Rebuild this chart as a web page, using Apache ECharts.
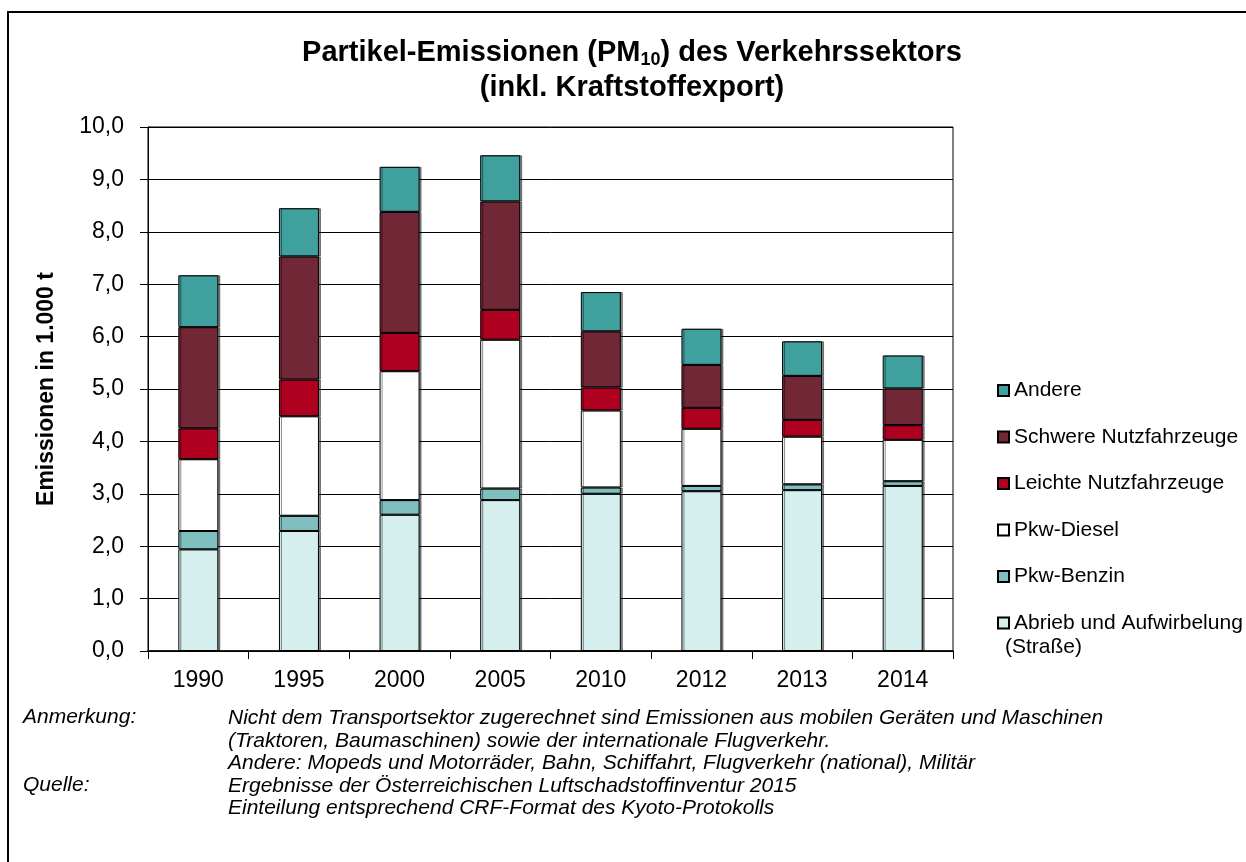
<!DOCTYPE html>
<html>
<head>
<meta charset="utf-8">
<script src="https://cdn.jsdelivr.net/npm/echarts@6/dist/echarts.min.js"></script>
<style>
html,body{margin:0;padding:0;background:#fff;}
#chart{width:1246px;height:862px;}
</style>
</head>
<body>
<div id="chart"></div>
<script>
var years = ['1990', '1995', '2000', '2005', '2010', '2012', '2013', '2014'];
var abrieb = [1.94, 2.29, 2.60, 2.88, 3.00, 3.05, 3.07, 3.15];
var benzin = [0.35, 0.29, 0.28, 0.22, 0.12, 0.10, 0.11, 0.09];
var diesel = [1.37, 1.90, 2.46, 2.84, 1.47, 1.09, 0.91, 0.79];
var leichte = [0.59, 0.70, 0.73, 0.57, 0.44, 0.40, 0.32, 0.28];
var schwere = [1.93, 2.35, 2.31, 2.07, 1.07, 0.82, 0.84, 0.70];
var andere = [0.99, 0.92, 0.86, 0.88, 0.75, 0.69, 0.66, 0.63];
var yTicks = [0, 1, 2, 3, 4, 5, 6, 7, 8, 9, 10];

var FONT = "'Liberation Sans', Arial, sans-serif";
var seriesDefs = [
  {name: 'Abrieb und Aufwirbelung (Straße)', data: abrieb, color: '#D5EFEF'},
  {name: 'Pkw-Benzin', data: benzin, color: '#80BFBF'},
  {name: 'Pkw-Diesel', data: diesel, color: '#FFFFFF'},
  {name: 'Leichte Nutzfahrzeuge', data: leichte, color: '#AF0020'},
  {name: 'Schwere Nutzfahrzeuge', data: schwere, color: '#722736'},
  {name: 'Andere', data: andere, color: '#40A09E'}
];

var chart = echarts.init(document.getElementById('chart'), null, {renderer: 'canvas'});

var option = {
  backgroundColor: '#fff',
  animation: false,
  textStyle: {fontFamily: FONT},
  title: {
    left: 632,
    top: 35,
    padding: 0,
    textAlign: 'center',
    text: '{t|Partikel-Emissionen (PM}{s|10}{t|) des Verkehrssektors}\n{t|(inkl. Kraftstoffexport)}',
    textStyle: {
      fontFamily: FONT,
      rich: {
        t: {fontSize: 29, fontWeight: 'bold', color: '#000', lineHeight: 35, fontFamily: FONT},
        s: {fontSize: 18, fontWeight: 'bold', color: '#000', padding: [16, 0, 0, 0], fontFamily: FONT}
      }
    }
  },
  legend: {
    orient: 'vertical',
    left: 992,
    top: 375,
    itemWidth: 11,
    itemHeight: 11,
    itemGap: 25.5,
    icon: 'rect',
    data: ['Andere', 'Schwere Nutzfahrzeuge', 'Leichte Nutzfahrzeuge', 'Pkw-Diesel', 'Pkw-Benzin', 'Abrieb und Aufwirbelung (Straße)'],
    formatter: function (n) { return n === 'Abrieb und Aufwirbelung (Straße)' ? 'Abrieb und Aufwirbelung' : n; },
    textStyle: {fontSize: 21, color: '#000', fontFamily: FONT, lineHeight: 21},
    selectedMode: false
  },
  grid: {
    left: 148, right: 293, top: 127, bottom: 211,
    show: true, borderColor: '#000', borderWidth: 1, backgroundColor: '#fff'
  },
  xAxis: {
    type: 'category',
    data: years,
    axisLine: {lineStyle: {color: '#000', width: 1.5}},
    axisTick: {show: true, length: 8, lineStyle: {color: '#000'}},
    axisLabel: {fontSize: 23, color: '#000', margin: 18, fontFamily: FONT}
  },
  yAxis: {
    type: 'value',
    min: 0, max: 10, interval: 1,
    name: 'Emissionen in 1.000 t',
    nameLocation: 'middle',
    nameRotate: 90,
    nameGap: 90,
    nameTextStyle: {fontSize: 23, fontWeight: 'bold', color: '#000', fontFamily: FONT},
    axisLine: {show: true, lineStyle: {color: '#000', width: 1}},
    axisTick: {show: true, length: 8, inside: false, lineStyle: {color: '#000'}},
    axisLabel: {
      fontSize: 23, color: '#000', margin: 24, fontFamily: FONT,
      formatter: function (v) { return yTicks.indexOf(v) >= 0 ? v.toFixed(1).replace('.', ',') : ''; }
    },
    splitLine: {show: true, lineStyle: {color: '#000', width: 1}}
  },
  series: seriesDefs.map(function (s) {
    return {
      name: s.name,
      type: 'bar',
      stack: 'total',
      barWidth: 40,
      data: s.data,
      itemStyle: {
        color: s.color,
        borderColor: '#000',
        borderWidth: 1,
        shadowColor: 'rgba(0,0,0,0.45)',
        shadowOffsetX: 2,
        shadowOffsetY: 0,
        shadowBlur: 0
      },
      emphasis: {disabled: true}
    };
  }),
  graphic: [
    {type: 'rect', silent: true, z: -10,
      shape: {x: 8, y: 12, width: 1300, height: 900},
      style: {fill: 'none', stroke: '#000', lineWidth: 2}},
    {type: 'text', left: 1005, top: 637,
      style: {text: '(Straße)', fontSize: 21, fill: '#000', fontFamily: FONT}},
    {type: 'text', left: 23, top: 707,
      style: {text: 'Anmerkung:', fontSize: 21, fontStyle: 'italic', fill: '#000', fontFamily: FONT}},
    {type: 'text', left: 23, top: 775,
      style: {text: 'Quelle:', fontSize: 21, fontStyle: 'italic', fill: '#000', fontFamily: FONT}},
    {type: 'text', left: 228, top: 707,
      style: {text: 'Nicht dem Transportsektor zugerechnet sind Emissionen aus mobilen Geräten und Maschinen\n(Traktoren, Baumaschinen) sowie der internationale Flugverkehr.\nAndere: Mopeds und Motorräder, Bahn, Schiffahrt, Flugverkehr (national), Militär\nErgebnisse der Österreichischen Luftschadstoffinventur 2015\nEinteilung entsprechend CRF-Format des Kyoto-Protokolls',
        fontSize: 21, lineHeight: 22.5, fontStyle: 'italic', fill: '#000', fontFamily: FONT}}
  ]
};
chart.setOption(option);
</script>
</body>
</html>
